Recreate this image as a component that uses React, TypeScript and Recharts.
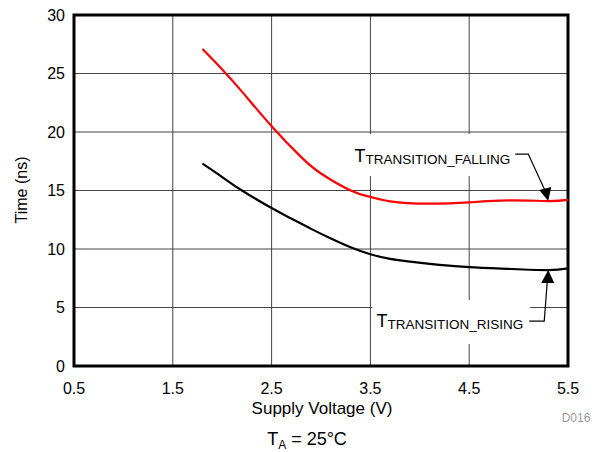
import {
  CartesianGrid,
  Customized,
  Line,
  LineChart,
  ReferenceArea,
  ReferenceDot,
  XAxis,
  YAxis,
} from "recharts";

const fallingVoltage = [1.8, 2.0, 2.2, 2.5, 2.8, 3.0, 3.3, 3.5, 3.7, 4.0, 4.3, 4.5, 4.9, 5.3, 5.5];
const falling = [27.1, 25.35, 23.45, 20.5, 17.85, 16.45, 15.0, 14.45, 14.07, 13.88, 13.9, 13.98, 14.15, 14.1, 14.2];

const risingVoltage = [1.8, 2.0, 2.2, 2.5, 2.7, 2.9, 3.1, 3.3, 3.5, 3.7, 3.9, 4.2, 4.5, 4.9, 5.3, 5.5];
const rising = [17.3, 16.15, 15.0, 13.5, 12.6, 11.72, 10.9, 10.15, 9.55, 9.15, 8.92, 8.65, 8.45, 8.3, 8.2, 8.35];

const xTicks = [0.5, 1.5, 2.5, 3.5, 4.5, 5.5];
const yTicks = [0, 5, 10, 15, 20, 25, 30];

// where the two arrows point
const fallTip = { x: 5.3, y: 14.1 };
const riseTip = { x: 5.3, y: 8.2 };

const FONT = '"Liberation Sans", Arial, Helvetica, sans-serif';

const fallingData = fallingVoltage.map((v, i) => ({ v, t: falling[i] }));
const risingData = risingVoltage.map((v, i) => ({ v, t: rising[i] }));

function FallingNote(props: any) {
  const { cx, cy } = props;
  return (
    <g>
      <rect x={cx - 204} y={cy - 67} width={180} height={42} fill="#fff" />
      <polyline
        points={`${cx - 33},${cy - 47} ${cx - 20},${cy - 47} ${cx - 3},${cy - 10}`}
        fill="none"
        stroke="#000"
        strokeWidth={1.2}
      />
      <polygon points={`${cx},${cy} ${cx - 9},${cy - 11} ${cx + 3},${cy - 14}`} fill="#000" />
      <text x={cx - 38} y={cy - 39} textAnchor="end" fontFamily={FONT} fill="#000">
        <tspan fontSize={18}>T</tspan>
        <tspan fontSize={13.5} dy={2}>TRANSITION_FALLING</tspan>
      </text>
    </g>
  );
}

function RisingNote(props: any) {
  const { cx, cy } = props;
  return (
    <g>
      <rect x={cx - 176} y={cy + 30} width={158} height={44} fill="#fff" />
      <polyline
        points={`${cx - 19},${cy + 51} ${cx - 4},${cy + 51} ${cx - 1},${cy + 12}`}
        fill="none"
        stroke="#000"
        strokeWidth={1.2}
      />
      <polygon points={`${cx},${cy} ${cx - 7},${cy + 13} ${cx + 6},${cy + 13}`} fill="#000" />
      <text x={cx - 25} y={cy + 57} textAnchor="end" fontFamily={FONT} fill="#000">
        <tspan fontSize={18}>T</tspan>
        <tspan fontSize={13.5} dy={2}>TRANSITION_RISING</tspan>
      </text>
    </g>
  );
}

function ExtraText() {
  return (
    <g fontFamily={FONT}>
      <text x={21} y={190} textAnchor="middle" fontSize={16} fill="#000" transform="rotate(-90 21 190)" dominantBaseline="central">
        Time (ns)
      </text>
      <text x={322} y={414} textAnchor="middle" fontSize={17} fill="#000">
        Supply Voltage (V)
      </text>
      <text x={576} y={422} textAnchor="middle" fontSize={12} fill="#999">
        D016
      </text>
      <text x={307} y={445} textAnchor="middle" fill="#000">
        <tspan fontSize={18}>T</tspan>
        <tspan fontSize={12} dy={4}>A</tspan>
        <tspan fontSize={18} dy={-4}> = 25°C</tspan>
      </text>
    </g>
  );
}

export default function App() {
  return (
    <div style={{ position: "absolute", left: 0, top: 0, width: 603, height: 452, background: "#fff" }}>
      <LineChart
        width={603}
        height={452}
        margin={{ top: 15, right: 35, left: 0, bottom: 56 }}
      >
        <CartesianGrid stroke="#444" strokeWidth={1} />
        <XAxis
          dataKey="v"
          type="number"
          domain={[0.5, 5.5]}
          ticks={xTicks}
          height={30}
          axisLine={false}
          tickLine={false}
          tickSize={0}
          tickMargin={17}
          tick={{ fontSize: 16, fill: "#000", fontFamily: FONT }}
          allowDuplicatedCategory={false}
        />
        <YAxis
          type="number"
          domain={[0, 30]}
          ticks={yTicks}
          width={74}
          axisLine={false}
          tickLine={false}
          tickSize={0}
          tickMargin={9}
          tick={{ fontSize: 16, fill: "#000", fontFamily: FONT }}
        />
        <ReferenceArea
          x1={0.5}
          x2={5.5}
          y1={0}
          y2={30}
          fill="none"
          stroke="#000"
          strokeWidth={3}
        />
        <Line
          data={fallingData}
          type="natural"
          dataKey="t"
          stroke="#ff0000"
          strokeWidth={2.2}
          dot={false}
          isAnimationActive={false}
        />
        <Line
          data={risingData}
          type="natural"
          dataKey="t"
          stroke="#000"
          strokeWidth={2.2}
          dot={false}
          isAnimationActive={false}
        />
        <ReferenceDot x={fallTip.x} y={fallTip.y} shape={FallingNote} />
        <ReferenceDot x={riseTip.x} y={riseTip.y} shape={RisingNote} />
        <Customized component={ExtraText} />
      </LineChart>
    </div>
  );
}
